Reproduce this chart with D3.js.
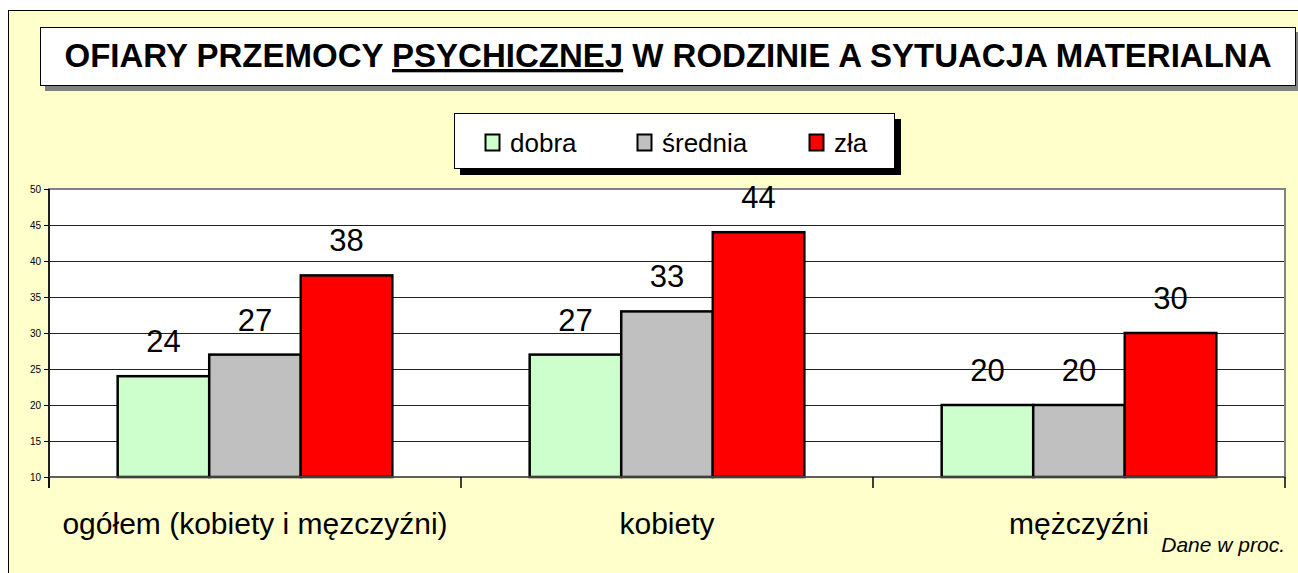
<!DOCTYPE html>
<html>
<head>
<meta charset="utf-8">
<style>
  body { margin: 0; background: #fff; }
  text { font-family: Arial, "Liberation Sans", sans-serif; fill: #000; }
</style>
</head>
<body>
<div id="chart"></div>
<script src="https://d3js.org/d3.v7.min.js"></script>
<script>
    // data (percent)
    var categories = ["ogółem (kobiety i męzczyźni)", "kobiety", "mężczyźni"];
    var seriesNames = ["dobra", "średnia", "zła"];
    var dobra = [24, 27, 20];
    var srednia = [27, 33, 20];
    var zla = [38, 44, 30];
    var yTicks = [10, 15, 20, 25, 30, 35, 40, 45, 50];
    var colors = ["#CCFFCC", "#C0C0C0", "#FF0000"];

    var width = 1298, height = 573;
    var plot = {left: 49, top: 189, right: 1285, bottom: 477};

    var svg = d3.select("#chart")
        .append("svg")
        .attr("width", width)
        .attr("height", height);

    // outer chart area
    svg.append("rect")
        .attr("x", 8.5).attr("y", 10.5)
        .attr("width", 1300).attr("height", 600)
        .attr("fill", "#FFFFCC")
        .attr("stroke", "#000");

    // title box with shadow
    svg.append("rect")
        .attr("x", 45).attr("y", 32)
        .attr("width", 1256).attr("height", 59)
        .attr("fill", "#808080");
    svg.append("rect")
        .attr("x", 40.5).attr("y", 27.5)
        .attr("width", 1255).attr("height", 58)
        .attr("fill", "#fff")
        .attr("stroke", "#000");
    var title = svg.append("text")
        .attr("x", 668).attr("y", 67)
        .attr("text-anchor", "middle")
        .style("font-size", "33px")
        .style("font-weight", "bold");
    title.append("tspan").text("OFIARY PRZEMOCY ");
    title.append("tspan").text("PSYCHICZNEJ").style("text-decoration", "underline");
    title.append("tspan").text(" W RODZINIE A SYTUACJA MATERIALNA");

    // legend with black shadow
    svg.append("rect")
        .attr("x", 460).attr("y", 119)
        .attr("width", 441).attr("height", 56)
        .attr("fill", "#000");
    svg.append("rect")
        .attr("x", 454.5).attr("y", 113.5)
        .attr("width", 440).attr("height", 55)
        .attr("fill", "#fff")
        .attr("stroke", "#000");
    var legendX = [485, 637, 809];
    var legend = svg.append("g").selectAll("g")
        .data(seriesNames)
        .enter().append("g")
        .attr("transform", function(d, i) { return "translate(" + legendX[i] + ",0)"; });
    legend.append("rect")
        .attr("x", 0.5).attr("y", 134.5)
        .attr("width", 14).attr("height", 16)
        .attr("fill", function(d, i) { return colors[i]; })
        .attr("stroke", "#000")
        .attr("stroke-width", 2);
    legend.append("text")
        .attr("x", 25).attr("y", 152)
        .style("font-size", "26px")
        .text(function(d) { return d; });

    // scales
    var x = d3.scaleBand()
        .domain(categories)
        .range([plot.left, plot.right]);
    var bw = x.bandwidth();
    var xs = d3.scaleBand()
        .domain(seriesNames)
        .range([bw / 6, bw * 5 / 6]);
    var y = d3.scaleLinear()
        .domain([10, 50])
        .range([plot.bottom, plot.top]);

    // plot area
    svg.append("rect")
        .attr("x", plot.left).attr("y", plot.top)
        .attr("width", plot.right - plot.left).attr("height", plot.bottom - plot.top)
        .attr("fill", "#fff");

    svg.append("g").selectAll("line")
        .data(yTicks.slice(1, -1))
        .enter().append("line")
        .attr("x1", plot.left).attr("x2", plot.right)
        .attr("y1", function(d) { return Math.round(y(d)) + 0.5; })
        .attr("y2", function(d) { return Math.round(y(d)) + 0.5; })
        .attr("stroke", "#222")
        .attr("stroke-width", 1);

    svg.append("rect")
        .attr("x", plot.left).attr("y", plot.top)
        .attr("width", plot.right - plot.left).attr("height", plot.bottom - plot.top)
        .attr("fill", "none")
        .attr("stroke", "#808080")
        .attr("stroke-width", 2);

    // bars
    var rows = categories.map(function(c, i) {
        return {cat: c, vals: [dobra[i], srednia[i], zla[i]]};
    });
    var groups = svg.append("g").selectAll("g")
        .data(rows)
        .enter().append("g")
        .attr("transform", function(d) { return "translate(" + x(d.cat) + ",0)"; });

    groups.selectAll("rect")
        .data(function(d) { return d.vals.map(function(v, i) { return {s: seriesNames[i], v: v, i: i}; }); })
        .enter().append("rect")
        .attr("x", function(d) { return xs(d.s); })
        .attr("y", function(d) { return y(d.v); })
        .attr("width", xs.bandwidth())
        .attr("height", function(d) { return y(10) - y(d.v); })
        .attr("fill", function(d) { return colors[d.i]; })
        .attr("stroke", "#000")
        .attr("stroke-width", 2.5);

    groups.selectAll("text")
        .data(function(d) { return d.vals.map(function(v, i) { return {s: seriesNames[i], v: v}; }); })
        .enter().append("text")
        .attr("x", function(d) { return xs(d.s) + xs.bandwidth() / 2; })
        .attr("y", function(d) { return y(d.v) - 24; })
        .attr("text-anchor", "middle")
        .style("font-size", "31px")
        .text(function(d) { return d.v; });

    // y axis
    var yAxis = svg.append("g")
        .attr("transform", "translate(" + plot.left + ",0)")
        .call(d3.axisLeft(y).tickValues(yTicks).tickSize(5).tickPadding(3).tickSizeOuter(0));
    yAxis.select(".domain").attr("stroke", "#000").attr("stroke-width", 1.5);
    yAxis.selectAll("text").style("font-size", "10px").style("font-family", "Arial, 'Liberation Sans', sans-serif");
    yAxis.select(".domain").attr("d", "M0," + plot.top + "V" + (plot.bottom + 11));

    // x axis boundary ticks
    var bounds = categories.map(function(c) { return x(c); }).concat([plot.right]);
    svg.append("line")
        .attr("x1", plot.left).attr("x2", plot.right)
        .attr("y1", plot.bottom).attr("y2", plot.bottom)
        .attr("stroke", "#555").attr("stroke-width", 1.5);
    svg.append("g").selectAll("line")
        .data(bounds)
        .enter().append("line")
        .attr("x1", function(d) { return d; }).attr("x2", function(d) { return d; })
        .attr("y1", plot.bottom).attr("y2", plot.bottom + 11)
        .attr("stroke", "#000").attr("stroke-width", 1.5);

    // category labels
    svg.append("g").selectAll("text")
        .data(categories)
        .enter().append("text")
        .attr("x", function(d) { return x(d) + bw / 2; })
        .attr("y", 534)
        .attr("text-anchor", "middle")
        .style("font-size", "30px")
        .text(function(d) { return d; });

    svg.append("text")
        .attr("x", 1285).attr("y", 552)
        .attr("text-anchor", "end")
        .style("font-size", "21px")
        .style("font-style", "italic")
        .text("Dane w proc.");
</script>
</body>
</html>
